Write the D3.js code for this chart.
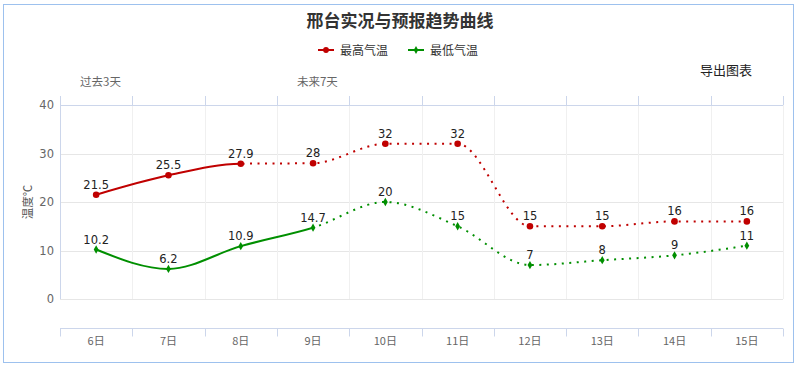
<!DOCTYPE html>
<html>
<head>
<meta charset="utf-8">
<script src="https://cdn.jsdelivr.net/npm/d3@7"></script>
<style>
  body { margin: 0; background: #fff; }
</style>
</head>
<body>
<div id="chart"></div>
<script>
var days = ['6日', '7日', '8日', '9日', '10日', '11日', '12日', '13日', '14日', '15日'];
var maxTemp = [21.5, 25.5, 27.9, 28, 32, 32, 15, 15, 16, 16];
var minTemp = [10.2, 6.2, 10.9, 14.7, 20, 15, 7, 8, 9, 11];
var yTicks = [0, 10, 20, 30, 40];
var bandLabels = ['过去3天', '未来7天'];
var bandStart = [0, 3];

var WIDTH = 800;
var HEIGHT = 367;
var LEFT = 60, RIGHT = 783, TOP = 105, BOTTOM = 299;
var CJK = '"Noto Sans CJK SC", sans-serif';
var NUM = '"DejaVu Sans", "Noto Sans CJK SC", sans-serif';

var x = d3.scaleBand()
  .domain(days)
  .range([LEFT, RIGHT]);

var y = d3.scaleLinear()
  .domain([0, 40])
  .range([BOTTOM, TOP]);

var cx = function(d, i) { return x(days[i]) + x.bandwidth() / 2; };
var edge = function(d, i) { return Math.round(LEFT + i * x.bandwidth()) + 0.5; };

var svg = d3.select('#chart')
  .append('svg')
    .attr('width', WIDTH)
    .attr('height', HEIGHT)
    .style('font-family', CJK);

// outer frame
svg.append('rect')
  .attr('x', 3.5).attr('y', 4.5)
  .attr('width', 790).attr('height', 358)
  .attr('fill', 'none')
  .attr('stroke', '#9dc1ee');

// title + legend + export text
svg.append('text')
  .attr('x', 400).attr('y', 27)
  .attr('text-anchor', 'middle')
  .attr('font-size', 17).attr('font-weight', 'bold')
  .attr('fill', '#333')
  .text('邢台实况与预报趋势曲线');

var legend = [
  { name: '最高气温', color: '#c00000', x: 318, shape: 'circle' },
  { name: '最低气温', color: '#008f00', x: 408, shape: 'diamond' }
];
legend.forEach(function(l) {
  var g = svg.append('g').attr('transform', 'translate(' + l.x + ',50)');
  g.append('line').attr('x1', 0).attr('x2', 16)
    .attr('stroke', l.color).attr('stroke-width', 2);
  g.append('path')
    .attr('d', d3.symbol().type(l.shape == 'circle' ? d3.symbolCircle : d3.symbolDiamond).size(l.shape == 'circle' ? 26 : 18)())
    .attr('transform', 'translate(8,0)')
    .attr('fill', l.color);
  g.append('text').attr('x', 22).attr('y', 4.5)
    .attr('font-size', 12).attr('fill', '#333')
    .text(l.name);
});

svg.append('text')
  .attr('x', 752).attr('y', 75)
  .attr('text-anchor', 'end')
  .attr('font-size', 13).attr('fill', '#222')
  .text('导出图表');

// gridlines
svg.append('g')
  .selectAll('line')
  .data(yTicks)
  .join('line')
    .attr('x1', LEFT).attr('x2', RIGHT)
    .attr('y1', function(d) { return Math.round(y(d)) + 0.5; })
    .attr('y2', function(d) { return Math.round(y(d)) + 0.5; })
    .attr('stroke', '#e6e6e6');

svg.append('g')
  .selectAll('line')
  .data(days.concat(['end']))
  .join('line')
    .attr('x1', edge).attr('x2', edge)
    .attr('y1', TOP).attr('y2', BOTTOM)
    .attr('stroke', function(d, i) { return i == 0 ? '#ccd6eb' : '#f0f0f0'; });

// top axis (ticks at category edges)
var topAxis = svg.append('g');
topAxis.append('line')
  .attr('x1', LEFT).attr('x2', RIGHT)
  .attr('y1', TOP + 0.5).attr('y2', TOP + 0.5)
  .attr('stroke', '#ccd6eb');
topAxis.selectAll('.tick')
  .data(days.concat(['end']))
  .join('line')
    .attr('x1', edge).attr('x2', edge)
    .attr('y1', TOP - 9).attr('y2', TOP)
    .attr('stroke', '#ccd6eb');

bandLabels.forEach(function(t, i) {
  svg.append('text')
    .attr('x', LEFT + bandStart[i] * x.bandwidth() + 20)
    .attr('y', 86)
    .attr('font-size', 11.5).attr('fill', '#666')
    .text(t);
});

// bottom axis (offset below the plot)
var xAxis = d3.axisBottom(x).tickSize(0).tickPadding(9);
var bottomG = svg.append('g')
  .attr('transform', 'translate(0,' + 328.5 + ')')
  .call(xAxis);
bottomG.select('.domain').attr('stroke', '#ccd6eb').attr('d', 'M' + LEFT + ',0H' + RIGHT);
bottomG.selectAll('text').attr('font-size', 11).attr('fill', '#666')
  .style('font-family', CJK);
bottomG.selectAll('.edge')
  .data(days.concat(['end']))
  .join('line')
    .attr('x1', edge).attr('x2', edge)
    .attr('y1', 0).attr('y2', 8)
    .attr('stroke', '#ccd6eb');

// y axis labels
var yAxis = d3.axisLeft(y).tickValues(yTicks).tickSize(0).tickPadding(6);
var leftG = svg.append('g')
  .attr('transform', 'translate(' + LEFT + ',0)')
  .call(yAxis);
leftG.select('.domain').remove();
leftG.selectAll('text').attr('font-size', 11.5).attr('fill', '#666')
  .style('font-family', NUM);

svg.append('text')
  .attr('transform', 'translate(32,' + ((TOP + BOTTOM) / 2) + ') rotate(-90)')
  .attr('text-anchor', 'middle')
  .attr('font-size', 11.5).attr('fill', '#555')
  .text('温度℃');

// series
var defs = svg.append('defs');
var series = [
  { values: maxTemp, color: '#c00000', split: 2, shape: d3.symbolCircle, size: 34 },
  { values: minTemp, color: '#008f00', split: 3, shape: d3.symbolDiamond, size: 20 }
];

var line = d3.line()
  .x(function(d, i) { return cx(d, i); })
  .y(function(d) { return y(d); })
  .curve(d3.curveMonotoneX);

series.forEach(function(s, k) {
  var sx = cx(null, s.split);
  defs.append('clipPath').attr('id', 'solid' + k)
    .append('rect').attr('x', 0).attr('y', 0).attr('width', sx).attr('height', HEIGHT);
  defs.append('clipPath').attr('id', 'dot' + k)
    .append('rect').attr('x', sx).attr('y', 0).attr('width', WIDTH - sx).attr('height', HEIGHT);

  svg.append('path')
    .datum(s.values)
    .attr('d', line)
    .attr('clip-path', 'url(#solid' + k + ')')
    .attr('fill', 'none')
    .attr('stroke', s.color)
    .attr('stroke-width', 2);

  svg.append('path')
    .datum(s.values)
    .attr('d', line)
    .attr('clip-path', 'url(#dot' + k + ')')
    .attr('fill', 'none')
    .attr('stroke', s.color)
    .attr('stroke-width', 2)
    .attr('stroke-dasharray', '2,5.5');

  svg.append('g')
    .selectAll('path')
    .data(s.values)
    .join('path')
      .attr('d', d3.symbol().type(s.shape).size(s.size))
      .attr('transform', function(d, i) { return 'translate(' + cx(d, i) + ',' + y(d) + ')'; })
      .attr('fill', s.color);

  svg.append('g')
    .selectAll('text')
    .data(s.values)
    .join('text')
      .attr('x', function(d, i) { return cx(d, i); })
      .attr('y', function(d) { return y(d) - 6; })
      .attr('text-anchor', 'middle')
      .attr('font-size', 11.5)
      .style('font-family', NUM)
      .attr('fill', '#222')
      .text(function(d) { return d; });
});
</script>
</body>
</html>
